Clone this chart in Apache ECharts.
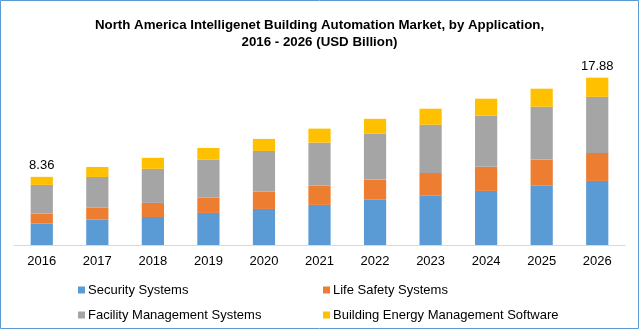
<!DOCTYPE html>
<html>
<head>
<meta charset="utf-8">
<script src="https://cdn.jsdelivr.net/npm/echarts@6/dist/echarts.min.js"></script>
<style>
html,body{margin:0;padding:0;background:#fff;}
#chart{width:639px;height:329px;}
</style>
</head>
<body>
<div id="chart"></div>
<script>
const categories = ['2016','2017','2018','2019','2020','2021','2022','2023','2024','2025','2026'];
const security = [3.87,4.25,4.51,4.90,5.28,5.67,6.18,6.56,7.01,7.52,7.97];
const lifeSafety = [0.96,1.15,1.35,1.47,1.66,1.86,1.92,2.18,2.31,2.50,2.69];
const facility = [2.76,2.95,3.27,3.63,3.91,4.11,4.42,4.62,4.93,5.07,5.38];
const energy = [0.77,0.96,1.06,1.13,1.15,1.35,1.41,1.54,1.61,1.73,1.84];
const totalLabels = ['8.36',null,null,null,null,null,null,null,null,null,'17.88'];
const seriesNames = ['Security Systems','Life Safety Systems','Facility Management Systems','Building Energy Management Software'];
const colors = ['#5B9BD5','#ED7D31','#A5A5A5','#FFC000'];

const chart = echarts.init(document.getElementById('chart'));
const font = 'Liberation Sans, Arial, sans-serif';
const dataSets = [security, lifeSafety, facility, energy];
const series = dataSets.map((d, i) => ({
  name: seriesNames[i],
  type: 'bar',
  stack: 'total',
  data: d,
  barWidth: '40%',
  clip: true,
  itemStyle: {color: colors[i]},
  emphasis: {disabled: true},
  label: i === 3 ? {
    show: true,
    position: 'top',
    distance: 5,
    color: '#000',
    fontFamily: font,
    fontSize: 13,
    formatter: p => totalLabels[p.dataIndex] || ''
  } : {show: false}
}));

const legendPos = [[78, 283], [323, 283], [78, 308], [323, 308]];
const legends = seriesNames.map((n, i) => ({
  data: [n],
  left: legendPos[i][0],
  top: legendPos[i][1],
  padding: 0,
  itemWidth: 7, itemHeight: 7,
  icon: 'rect',
  textStyle: {color: '#000', fontFamily: font, fontSize: 13, padding: [0, 0, 0, -2], lineHeight: 14},
  selectedMode: false
}));

chart.setOption({
  animation: false,
  title: {
    text: 'North America Intelligenet Building Automation Market, by Application,\n2016 - 2026 (USD Billion)',
    left: 'center',
    top: 12,
    textStyle: {fontFamily: font, fontSize: 13.3, fontWeight: 'bold', color: '#000', lineHeight: 17}
  },
  grid: {left: 14, right: 14, top: 66, bottom: 84},
  xAxis: {
    type: 'category',
    data: categories,
    axisLine: {lineStyle: {color: '#D9D9D9', width: 1}},
    axisTick: {show: false},
    axisLabel: {color: '#000', fontFamily: font, fontSize: 13, margin: 10}
  },
  yAxis: {
    type: 'value',
    min: 1.82,
    max: 19,
    show: false,
    splitLine: {show: false}
  },
  legend: legends,
  graphic: [{
    type: 'rect',
    shape: {x: 0.5, y: 0.5, width: 638, height: 328},
    style: {fill: 'none', stroke: '#5B9BD5', lineWidth: 1},
    silent: true
  }],
  series: series
});
</script>
</body>
</html>
